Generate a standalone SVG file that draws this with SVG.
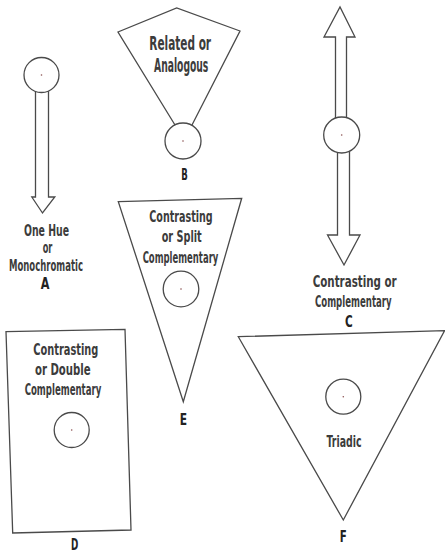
<svg xmlns="http://www.w3.org/2000/svg" width="445" height="552" viewBox="0 0 445 552">
<style>
.shape{fill:#fff;stroke:#4a4a4a;stroke-width:1.3;stroke-linejoin:miter}
.ring{fill:#fff;stroke:#4a4a4a;stroke-width:1.3}
.dot{fill:#8a5050}
text{font-family:"DejaVu Sans Condensed","DejaVu Sans",sans-serif;font-stretch:condensed;font-weight:bold;font-size:16px;fill:#3c3c3c;text-anchor:middle}
.big{font-size:20px}
.sm{font-size:15px}
.lbl{font-size:16px;fill:#222}
</style>
<rect width="445" height="552" fill="#fff"/>
<g id="connectors">
<polyline class="shape" points="35.5,88 35.5,197 31.8,197 42.5,213 54.8,197 48.5,197 48.5,88"/>
<polyline class="shape" points="335.5,122 335.5,37 324,37 340,7 355,37 346.5,37 346.5,122"/>
<polyline class="shape" points="337.5,148 337.5,235 327.5,235 344,265 360,235 349.5,235 349.5,148"/>
</g>
<g id="nodeA">
<circle class="ring" cx="41.5" cy="75" r="17.5"/>
<circle class="dot" cx="41.5" cy="75" r="0.8"/>
<text class="sm" x="46.5" y="235.5" textLength="45" lengthAdjust="spacingAndGlyphs">One Hue</text>
<text class="sm" x="47.5" y="253" textLength="9.7" lengthAdjust="spacingAndGlyphs">or</text>
<text class="sm" x="46" y="270.5" textLength="74" lengthAdjust="spacingAndGlyphs">Monochromatic</text>
<text class="lbl sm" x="45" y="288.5" textLength="8.7" lengthAdjust="spacingAndGlyphs">A</text>
</g>
<g id="nodeB">
<polyline class="shape" points="175,125 118,32 176.7,8 240,31 192,125"/>
<circle class="ring" cx="183" cy="141" r="18"/>
<circle class="dot" cx="183" cy="141" r="0.8"/>
<text class="big" x="180.2" y="50" textLength="61.7" lengthAdjust="spacingAndGlyphs">Related or</text>
<text class="big" x="181.2" y="71.7" textLength="54.3" lengthAdjust="spacingAndGlyphs">Analogous</text>
<text class="lbl" x="184.5" y="180" textLength="6.5" lengthAdjust="spacingAndGlyphs">B</text>
</g>
<g id="nodeC">
<circle class="ring" cx="341.7" cy="135" r="18"/>
<circle class="dot" cx="341.7" cy="135" r="0.8"/>
<text x="354.7" y="286.7" textLength="84" lengthAdjust="spacingAndGlyphs">Contrasting or</text>
<text x="353.3" y="307" textLength="76.7" lengthAdjust="spacingAndGlyphs">Complementary</text>
<text class="lbl" x="348.8" y="326.7" textLength="7.7" lengthAdjust="spacingAndGlyphs">C</text>
</g>
<g id="nodeD">
<polygon class="shape" points="6,331.7 125,329.3 131,530 12.7,533"/>
<circle class="ring" cx="71.7" cy="430" r="17.5"/>
<circle class="dot" cx="71.7" cy="430" r="0.8"/>
<text x="65.8" y="355" textLength="65" lengthAdjust="spacingAndGlyphs">Contrasting</text>
<text x="62.8" y="375" textLength="55.7" lengthAdjust="spacingAndGlyphs">or Double</text>
<text x="63" y="395" textLength="76.7" lengthAdjust="spacingAndGlyphs">Complementary</text>
<text class="lbl" x="74.7" y="549.5" textLength="7.3" lengthAdjust="spacingAndGlyphs">D</text>
</g>
<g id="nodeE">
<polygon class="shape" points="118.3,201.7 241.7,198.3 183.3,401.7"/>
<circle class="ring" cx="181" cy="289" r="17.8"/>
<circle class="dot" cx="181" cy="289" r="0.8"/>
<text x="181" y="221.7" textLength="63.3" lengthAdjust="spacingAndGlyphs">Contrasting</text>
<text x="181.7" y="241.7" textLength="40" lengthAdjust="spacingAndGlyphs">or Split</text>
<text x="180.5" y="263" textLength="75.7" lengthAdjust="spacingAndGlyphs">Complementary</text>
<text class="lbl" x="183.3" y="425" textLength="7.3" lengthAdjust="spacingAndGlyphs">E</text>
</g>
<g id="nodeF">
<polygon class="shape" points="238.3,336.7 444.5,330.7 343.3,520"/>
<circle class="ring" cx="343.3" cy="396.7" r="17.5"/>
<circle class="dot" cx="343.3" cy="396.7" r="0.8"/>
<text x="344" y="446.7" textLength="35" lengthAdjust="spacingAndGlyphs">Triadic</text>
<text class="lbl" x="343.3" y="541.7" textLength="7" lengthAdjust="spacingAndGlyphs">F</text>
</g>
</svg>
